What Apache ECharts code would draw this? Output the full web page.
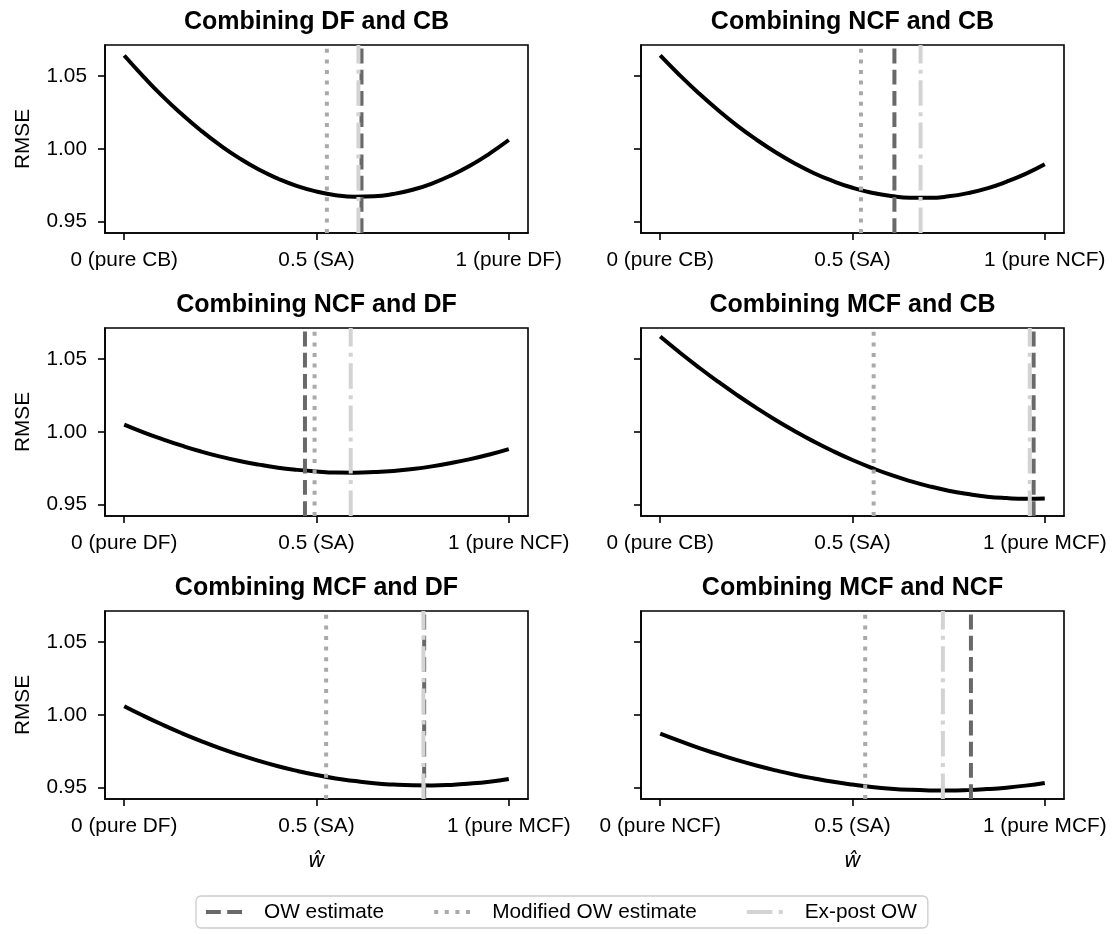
<!DOCTYPE html>
<html>
<head>
<meta charset="utf-8">
<script src="https://cdn.jsdelivr.net/npm/echarts@6/dist/echarts.min.js"></script>
<style>
  html, body { margin: 0; padding: 0; background: #ffffff; }
  #chart { width: 1112px; height: 934px; }
</style>
</head>
<body>
<div id="chart"></div>
<script>
// Combination weight on the second forecast (0 = pure first, 1 = pure second)
const weights = [0, 0.05, 0.1, 0.15, 0.2, 0.25, 0.3, 0.35, 0.4, 0.45, 0.5,
                 0.55, 0.6, 0.65, 0.7, 0.75, 0.8, 0.85, 0.9, 0.95, 1.0];

// RMSE of the combined forecast at each weight
const rmseDFandCB   = [1.0642, 1.0497, 1.0361, 1.0238, 1.0125, 1.0024, 0.9935, 0.9858, 0.9795, 0.9744, 0.9707,
                       0.9682, 0.9671, 0.9674, 0.9690, 0.9719, 0.9762, 0.9818, 0.9886, 0.9968, 1.0061];
const rmseNCFandCB  = [1.0642, 1.0508, 1.0383, 1.0267, 1.0160, 1.0064, 0.9977, 0.9900, 0.9833, 0.9778, 0.9733,
                       0.9699, 0.9676, 0.9664, 0.9664, 0.9674, 0.9696, 0.9729, 0.9774, 0.9828, 0.9894];
const rmseNCFandDF  = [1.0050, 0.9997, 0.9949, 0.9905, 0.9865, 0.9830, 0.9800, 0.9775, 0.9754, 0.9739, 0.9728,
                       0.9721, 0.9720, 0.9724, 0.9732, 0.9745, 0.9763, 0.9786, 0.9813, 0.9845, 0.9882];
const rmseMCFandCB  = [1.0655, 1.0547, 1.0444, 1.0346, 1.0253, 1.0165, 1.0082, 1.0005, 0.9933, 0.9867, 0.9807,
                       0.9753, 0.9704, 0.9662, 0.9626, 0.9596, 0.9573, 0.9555, 0.9545, 0.9540, 0.9542];
const rmseMCFandDF  = [1.0060, 0.9994, 0.9932, 0.9874, 0.9820, 0.9770, 0.9725, 0.9684, 0.9647, 0.9615, 0.9587,
                       0.9563, 0.9545, 0.9530, 0.9521, 0.9516, 0.9515, 0.9519, 0.9528, 0.9541, 0.9559];
const rmseMCFandNCF = [0.9871, 0.9821, 0.9773, 0.9730, 0.9689, 0.9652, 0.9619, 0.9589, 0.9563, 0.9540, 0.9521,
                       0.9505, 0.9493, 0.9485, 0.9481, 0.9480, 0.9483, 0.9490, 0.9500, 0.9514, 0.9532];

// Estimated weights per panel (same panel order as the titles)
const owEstimate         = [0.617, 0.609, 0.470, 0.971, 0.780, 0.808];
const modifiedOwEstimate = [0.527, 0.522, 0.495, 0.555, 0.525, 0.533];
const expostOw           = [0.609, 0.677, 0.589, 0.961, 0.778, 0.735];

const panelTitles = [
  'Combining DF and CB', 'Combining NCF and CB',
  'Combining NCF and DF', 'Combining MCF and CB',
  'Combining MCF and DF', 'Combining MCF and NCF'
];
const xTickValues = [0, 0.5, 1];
const xTickLabels = [
  ['0 (pure CB)', '0.5 (SA)', '1 (pure DF)'],
  ['0 (pure CB)', '0.5 (SA)', '1 (pure NCF)'],
  ['0 (pure DF)', '0.5 (SA)', '1 (pure NCF)'],
  ['0 (pure CB)', '0.5 (SA)', '1 (pure MCF)'],
  ['0 (pure DF)', '0.5 (SA)', '1 (pure MCF)'],
  ['0 (pure NCF)', '0.5 (SA)', '1 (pure MCF)']
];
const yTickValues = [0.95, 1.00, 1.05];
const curves = [rmseDFandCB, rmseNCFandCB, rmseNCFandDF, rmseMCFandCB, rmseMCFandDF, rmseMCFandNCF];
const legendNames = ['OW estimate', 'Modified OW estimate', 'Ex-post OW'];

// Shared axis extents (data range plus a 5% margin)
const X_MIN = -0.05, X_MAX = 1.05;
const Y_MIN = 0.9422, Y_MAX = 1.0714;

// Layout
const colLeft = [105, 641];
const colWidth = 423;
const rowTop = [45, 328, 611];
const rowHeight = 188;

const FONT = '"Liberation Sans", Arial, Helvetica, sans-serif';
const TICK_FS = 20.8;

const lineStyles = {
  'OW estimate':          { color: '#696969', type: [14.8, 6.4] },
  'Modified OW estimate': { color: '#a9a9a9', type: [4, 6.6] },
  'Ex-post OW':           { color: '#d3d3d3', type: [25.6, 6.4, 4, 6.4] }
};

const grids = [], xAxes = [], yAxes = [], titles = [], series = [];

for (let i = 0; i < 6; i++) {
  const col = i % 2, row = Math.floor(i / 2);
  grids.push({
    left: colLeft[col], top: rowTop[row], width: colWidth, height: rowHeight,
    show: true, borderColor: '#000', borderWidth: 1.6, backgroundColor: 'transparent'
  });
  titles.push({
    text: panelTitles[i],
    left: colLeft[col] + colWidth / 2,
    top: rowTop[row] - 35,
    textAlign: 'center',
    padding: 0,
    textStyle: { fontFamily: FONT, fontSize: 25, fontWeight: 'bold', color: '#000' }
  });
  const labels = xTickLabels[i];
  xAxes.push({
    gridIndex: i, type: 'value', min: X_MIN, max: X_MAX,
    axisLine: { show: true, onZero: false, lineStyle: { color: '#000', width: 1.6 } },
    axisTick: { show: true, length: 7, lineStyle: { color: '#000', width: 1.6 }, customValues: xTickValues },
    axisLabel: {
      show: true, margin: 17, color: '#000', fontFamily: FONT, fontSize: TICK_FS,
      customValues: xTickValues,
      formatter: v => labels[xTickValues.indexOf(v)]
    },
    splitLine: { show: false },
    name: row === 2 ? '\u0175' : '',
    nameLocation: 'middle', nameGap: 52,
    nameTextStyle: { fontFamily: '"DejaVu Sans", sans-serif', fontStyle: 'italic', fontSize: TICK_FS, color: '#000' }
  });
  yAxes.push({
    gridIndex: i, type: 'value', min: Y_MIN, max: Y_MAX,
    axisLine: { show: true, onZero: false, lineStyle: { color: '#000', width: 1.6 } },
    axisTick: { show: true, length: 7, lineStyle: { color: '#000', width: 1.6 }, customValues: yTickValues },
    axisLabel: {
      show: col === 0, margin: 18, color: '#000', fontFamily: FONT, fontSize: TICK_FS,
      customValues: yTickValues,
      formatter: v => v.toFixed(2)
    },
    splitLine: { show: false },
    name: col === 0 ? 'RMSE' : '',
    nameLocation: 'middle', nameGap: 71, nameRotate: 90,
    nameTextStyle: { fontFamily: FONT, fontSize: TICK_FS, color: '#000' }
  });

  // RMSE curve
  series.push({
    name: 'RMSE ' + panelTitles[i],
    type: 'line', xAxisIndex: i, yAxisIndex: i,
    data: weights.map((w, k) => [w, curves[i][k]]),
    smooth: true, symbol: 'none', z: 2,
    lineStyle: { color: '#000', width: 4 }
  });

  // Vertical weight markers spanning the full plot height
  const marks = [
    ['OW estimate', owEstimate[i], 3],
    ['Modified OW estimate', modifiedOwEstimate[i], 4],
    ['Ex-post OW', expostOw[i], 5]
  ];
  marks.forEach(([name, w, z]) => {
    const st = lineStyles[name];
    series.push({
      name, type: 'line', xAxisIndex: i, yAxisIndex: i,
      data: [[w, Y_MIN], [w, Y_MAX]],
      symbol: 'none', z, clip: true,
      itemStyle: { color: st.color },
      lineStyle: { color: st.color, width: 4, type: st.type, cap: 'butt' }
    });
  });
}

const chart = echarts.init(document.getElementById('chart'), null, { renderer: 'canvas' });
chart.setOption({
  animation: false,
  backgroundColor: '#ffffff',
  title: titles,
  grid: grids,
  xAxis: xAxes,
  yAxis: yAxes,
  legend: {
    data: legendNames.map(n => ({
      name: n,
      itemStyle: { opacity: 0 },
      lineStyle: { color: lineStyles[n].color, width: 4, type: lineStyles[n].type, cap: 'butt' }
    })),
    left: 196, top: 896,
    padding: [5, 11, 5, 8],
    itemWidth: 42, itemHeight: 14, itemGap: 48,
    borderColor: '#cccccc', borderWidth: 1.3, borderRadius: 5,
    textStyle: { fontFamily: FONT, fontSize: TICK_FS, color: '#000', padding: [0, 0, 0, 11], lineHeight: 22 }
  },
  series
});
</script>
</body>
</html>
